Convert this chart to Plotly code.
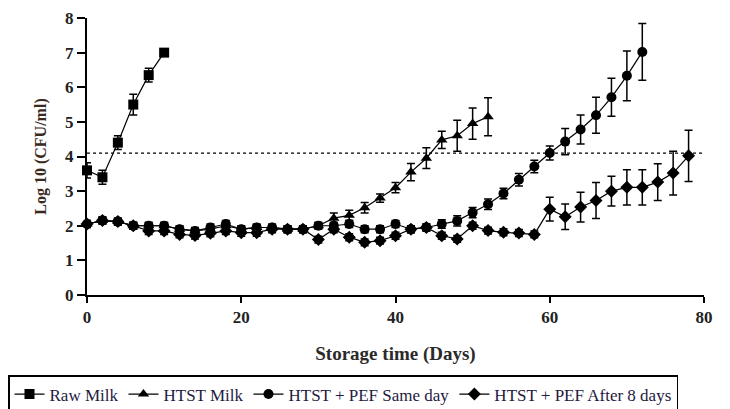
import plotly.graph_objects as go

# ---------------- data ----------------
days_raw = [0, 2, 4, 6, 8, 10]
raw_milk = [3.6, 3.4, 4.4, 5.5, 6.35, 7.0]
raw_err = [0.22, 0.2, 0.2, 0.3, 0.2, 0.05]

days_htst = list(range(0, 53, 2))
htst_milk = [2.05, 2.15, 2.12, 2.0, 2.0, 2.0, 1.9, 1.85, 1.9, 2.0, 1.9, 1.95, 1.95, 1.9,
             1.9, 2.0, 2.22, 2.3, 2.52, 2.8, 3.1, 3.55, 3.95, 4.48, 4.6, 4.95, 5.15]
htst_err = [0.08] * 16 + [0.15, 0.15, 0.15, 0.12, 0.15, 0.25, 0.3, 0.25, 0.45, 0.45, 0.55]

days_same = list(range(0, 73, 2))
pef_same = [2.05, 2.15, 2.12, 2.0, 2.0, 2.0, 1.9, 1.85, 1.95, 2.05, 1.9, 1.95, 1.95, 1.9,
            1.9, 2.0, 2.0, 2.05, 1.9, 1.9, 2.05, 1.9, 1.95, 2.05, 2.14, 2.38, 2.62, 2.93,
            3.33, 3.71, 4.1, 4.43, 4.78, 5.19, 5.71, 6.33, 7.02]
same_err = [0.1] * 23 + [0.12, 0.15, 0.15, 0.15, 0.15, 0.18, 0.18, 0.2, 0.38, 0.42,
                         0.52, 0.55, 0.72, 0.82]

days_after = list(range(0, 79, 2))
pef_after = [2.05, 2.15, 2.12, 2.0, 1.85, 1.85, 1.75, 1.72, 1.78, 1.85,
             1.8, 1.8, 1.9, 1.9, 1.9, 1.6, 1.9, 1.67, 1.52, 1.57,
             1.71, 1.9, 1.95, 1.71, 1.62, 2.0, 1.86, 1.81, 1.79, 1.75,
             2.48, 2.26, 2.54, 2.73, 3.0, 3.11, 3.11, 3.26, 3.52, 4.02]
after_err = [0.1] * 30 + [0.34, 0.37, 0.43, 0.52, 0.43, 0.51, 0.51, 0.53, 0.63, 0.74]

limit_value = 4.1

series = [
    ("Raw Milk", days_raw, raw_milk, raw_err, "square"),
    ("HTST Milk", days_htst, htst_milk, htst_err, "triangle-up"),
    ("HTST + PEF Same day", days_same, pef_same, same_err, "circle"),
    ("HTST + PEF After 8 days", days_after, pef_after, after_err, "diamond"),
]

SERIF = "Liberation Serif"

fig = go.Figure()
for name, xs, ys, es, sym in series:
    fig.add_trace(go.Scatter(
        x=xs, y=ys, name=name, mode="lines+markers",
        line=dict(color="black", width=1.2),
        marker=dict(symbol=sym, size=10, color="black"),
        error_y=dict(type="data", array=es, color="black", thickness=1.5, width=4),
        cliponaxis=False,
    ))

fig.add_shape(type="line", xref="x", yref="y", x0=0, x1=80, y0=limit_value, y1=limit_value,
              line=dict(color="black", width=1.2, dash="dot"))

L, R, T, B = 79, 34, 10, 122
PW, PH = 730 - L - R, 409 - T - B

fig.update_layout(
    width=730, height=409,
    margin=dict(l=L, r=R, t=T, b=B, autoexpand=False),
    plot_bgcolor="white", paper_bgcolor="white",
    font=dict(family=SERIF, color="#222222"),
    showlegend=True,
    legend=dict(
        orientation="h", xref="paper", yref="paper",
        x=-L / PW, y=(PH - 367 + T) / PH, xanchor="left", yanchor="top",
        bordercolor="black", borderwidth=1.5,
        font=dict(family=SERIF, size=17, color="#1e1a40"),
        itemwidth=30, tracegroupgap=0,
    ),
)
fig.update_xaxes(
    range=[0, 80], dtick=20, showgrid=False, zeroline=False, automargin=False,
    showline=True, linecolor="black", linewidth=2,
    ticks="outside", ticklen=6, tickwidth=2, tickcolor="black", ticklabeloverflow="allow",
    tickfont=dict(family=SERIF, size=17, color="#222222", weight="bold"),
    title=dict(text="<b>Storage time (Days)</b>", font=dict(family=SERIF, size=19, color="#2a2a2a"),
               standoff=20),
)
fig.update_yaxes(
    range=[0, 8], dtick=1, showgrid=False, zeroline=False, automargin=False,
    showline=True, linecolor="black", linewidth=2,
    ticks="outside", ticklen=8, tickwidth=2, tickcolor="black", ticklabeloverflow="allow",
    tickfont=dict(family=SERIF, size=17, color="#222222", weight="bold"),
    title=dict(text="<b>Log 10 (CFU/ml)</b>", font=dict(family=SERIF, size=16, color="#3a2a1e"),
               standoff=14),
)

fig.write_html("out.html")
